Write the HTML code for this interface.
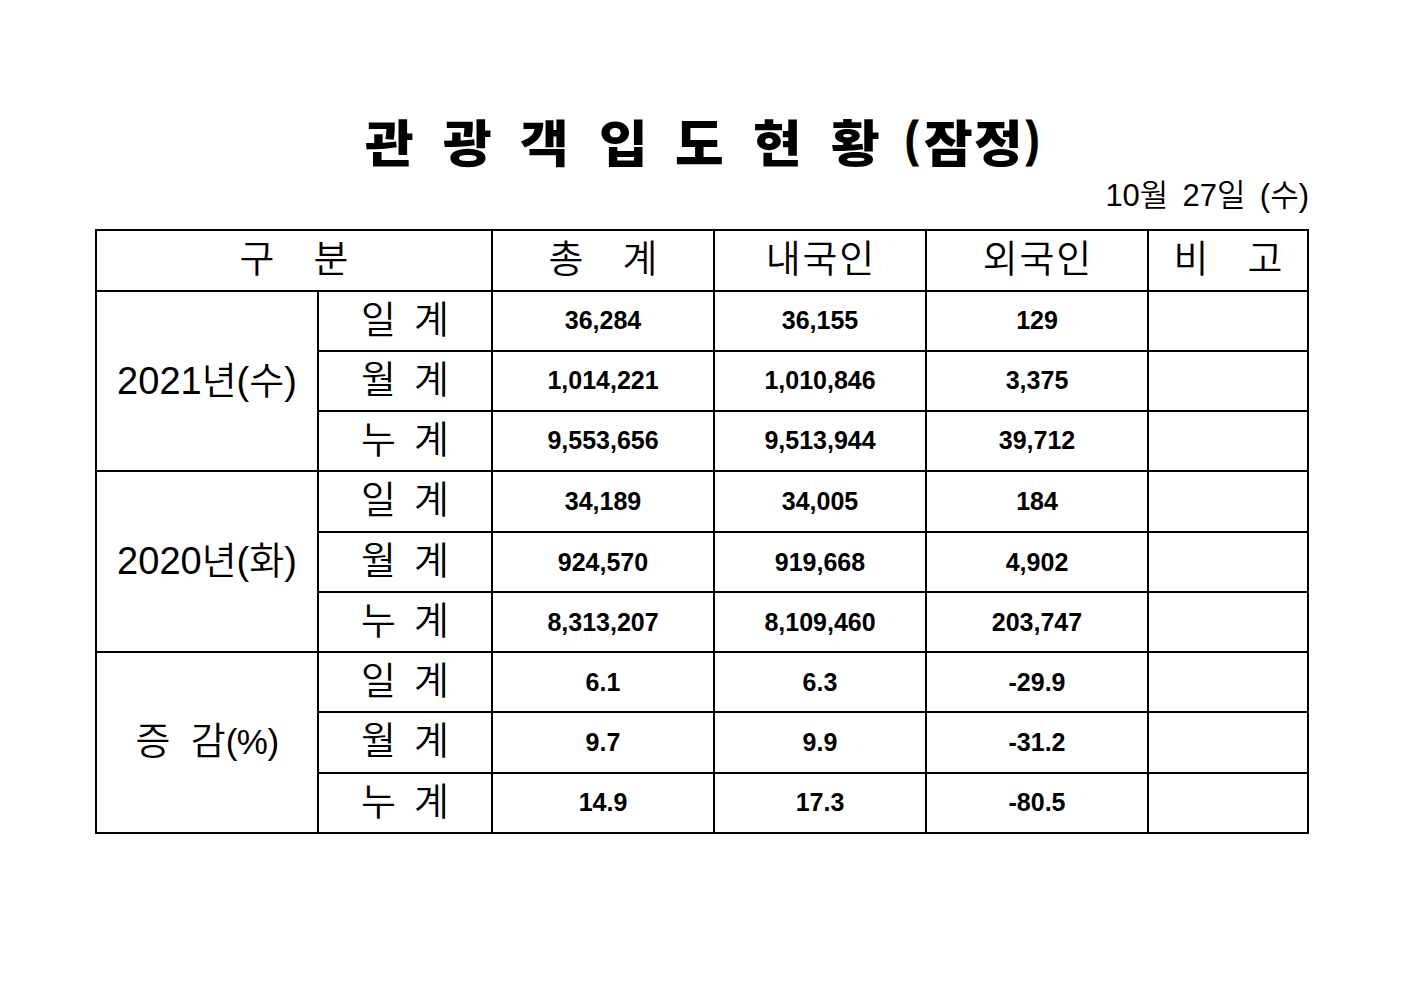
<!DOCTYPE html>
<html lang="ko">
<head>
<meta charset="utf-8">
<title>관광객 입도 현황 (잠정)</title>
<style>
  html, body { margin: 0; padding: 0; background: #fff; }
  body { width: 1403px; height: 992px; position: relative; overflow: hidden;
         font-family: "Liberation Sans", "Noto Sans CJK KR", sans-serif; color: #000; }
  .title { position: absolute; left: 0; top: 107px; width: 1403px; height: 76px;
           font-family: "Liberation Sans", "Noto Sans CJK KR", sans-serif; font-weight: 900;
           font-size: 50px; line-height: 76px; white-space: pre; }
  .title span { position: absolute; top: 0; transform: scaleX(1.06); transform-origin: 0 0; }
  .title span.tp { top: -6px; transform: scaleX(0.8); -webkit-text-stroke: 1px #000; }
  .title span.do { transform: scale(1.06, 1.1); transform-origin: 0 39.5px; }
  .date { position: absolute; right: 94px; top: 174px; font-size: 31px; font-weight: 350; line-height: 44px;
          white-space: pre; word-spacing: -1.5px; font-family: "Liberation Sans", "Noto Sans CJK KR", sans-serif; }
  .grid { position: absolute; left: 95px; top: 229px; width: 1210px; height: 601px;
          padding: 2px; background: #000; display: grid; gap: 2px;
          grid-template-columns: 220px 172px 220px 210px 220px 158px;
          grid-template-rows: 59px 58px 58px 58px 59px 58px 58px 58px 59px 58px; }
  .c { background: #fff; display: flex; align-items: center; justify-content: center;
       white-space: pre; }
  .h, .g, .l { font-size: 38px; font-weight: 350; }
  .t { display: inline-block; position: relative; }
  .h .t { top: -5px; word-spacing: 2.5px; }
  .h .t.w { letter-spacing: 1.8px; margin-right: -1.8px; word-spacing: 0; }
  .l .t { top: -5px; word-spacing: 7.6px; }
  .g .t { top: -4px; }
  .n { font-size: 25px; font-weight: 700; }
  .n span { position: relative; top: -1px; }
  .n.z span { top: 0; }
  .pc { font-size: 35px; letter-spacing: -0.5px; }
</style>
</head>
<body>
<div class="title"><span style="left:365.3px">관</span> <span style="left:443.4px">광</span> <span style="left:520.4px">객</span> <span style="left:598.9px">입</span> <span class="do" style="left:674.9px">도</span> <span style="left:752.9px">현</span> <span style="left:830.6px">황</span> <span class="tp" style="left:905.4px">(</span><span style="left:923.5px">잠</span><span style="left:973.9px">정</span><span class="tp" style="left:1025.6px">)</span></div>
<div class="date">10월  27일  (수)</div>
<div class="grid">
  <div class="c h" style="grid-column:1/3"><span class="t">구   분</span></div>
  <div class="c h"><span class="t">총   계</span></div>
  <div class="c h"><span class="t w">내국인</span></div>
  <div class="c h"><span class="t w">외국인</span></div>
  <div class="c h"><span class="t">비   고</span></div>

  <div class="c g" style="grid-row:2/5"><span class="t">2021년(수)</span></div>
  <div class="c l"><span class="t">일 계</span></div><div class="c n"><span>36,284</span></div><div class="c n"><span>36,155</span></div><div class="c n"><span>129</span></div><div class="c"></div>
  <div class="c l"><span class="t">월 계</span></div><div class="c n"><span>1,014,221</span></div><div class="c n"><span>1,010,846</span></div><div class="c n"><span>3,375</span></div><div class="c"></div>
  <div class="c l"><span class="t">누 계</span></div><div class="c n"><span>9,553,656</span></div><div class="c n"><span>9,513,944</span></div><div class="c n"><span>39,712</span></div><div class="c"></div>

  <div class="c g" style="grid-row:5/8"><span class="t">2020년(화)</span></div>
  <div class="c l"><span class="t">일 계</span></div><div class="c n z"><span>34,189</span></div><div class="c n z"><span>34,005</span></div><div class="c n z"><span>184</span></div><div class="c"></div>
  <div class="c l"><span class="t">월 계</span></div><div class="c n z"><span>924,570</span></div><div class="c n z"><span>919,668</span></div><div class="c n z"><span>4,902</span></div><div class="c"></div>
  <div class="c l"><span class="t">누 계</span></div><div class="c n z"><span>8,313,207</span></div><div class="c n z"><span>8,109,460</span></div><div class="c n z"><span>203,747</span></div><div class="c"></div>

  <div class="c g" style="grid-row:8/11"><span class="t" style="word-spacing:9.7px;top:-5px">증 감<span class="pc">(%)</span></span></div>
  <div class="c l"><span class="t">일 계</span></div><div class="c n z"><span>6.1</span></div><div class="c n z"><span>6.3</span></div><div class="c n z"><span>-29.9</span></div><div class="c"></div>
  <div class="c l"><span class="t">월 계</span></div><div class="c n z"><span>9.7</span></div><div class="c n z"><span>9.9</span></div><div class="c n z"><span>-31.2</span></div><div class="c"></div>
  <div class="c l"><span class="t">누 계</span></div><div class="c n"><span>14.9</span></div><div class="c n"><span>17.3</span></div><div class="c n"><span>-80.5</span></div><div class="c"></div>
</div>
</body>
</html>
